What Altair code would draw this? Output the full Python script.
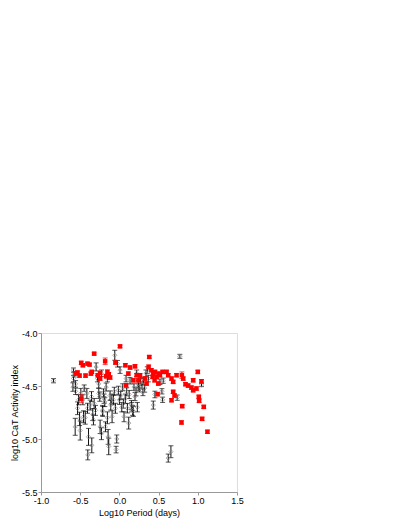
import altair as alt
import pandas as pd

# Black/gray group: log10 period, log10 CaT index, error
blk_x = [-0.84, -0.585, -0.576, -0.585, -0.593, -0.559, -0.564, -0.50, -0.534, -0.521,
         -0.466, -0.449, -0.436, -0.407, -0.394, -0.403, -0.352, -0.331, -0.322, -0.297,
         -0.280, -0.263, -0.263, -0.246, -0.229, -0.216, -0.203, -0.186, -0.169, -0.153,
         -0.144, -0.136, -0.119, -0.110, -0.093, -0.076, -0.059, -0.042, -0.034, -0.025,
         -0.013, 0.000, 0.017, 0.030, 0.042, 0.059, 0.076, 0.093, 0.102, 0.119,
         0.136, 0.153, 0.169, 0.186, 0.199, 0.212, 0.229, 0.242, 0.254, 0.271,
         0.288, 0.305, 0.322, 0.339, 0.356, 0.369, 0.432, 0.453, 0.517, 0.542,
         0.551, 0.559, 0.623, 0.657, 0.737, 0.771, 1.047, -0.492, -0.508, -0.373,
         -0.356, -0.229, -0.153, -0.305, -0.178, -0.051, 0.008, 0.085, 0.220, -0.559,
         -0.458, -0.212, -0.097, 0.051, 0.157, 0.178, 0.242, -0.250, -0.415, -0.340,
         -0.195, -0.065, 0.125, 0.300]
blk_y = [-4.45, -4.35, -4.39, -4.43, -4.51, -4.55, -4.885, -4.92, -4.71, -4.63,
         -4.63, -4.52, -4.80, -4.71, -4.98, -5.15, -5.06, -4.82, -4.665, -4.32,
         -4.43, -4.48, -4.57, -4.885, -4.95, -4.73, -4.565, -4.65, -4.51, -4.80,
         -4.98, -5.07, -4.59, -4.68, -4.79, -4.63, -4.21, -5.10, -5.00, -4.29,
         -4.54, -4.63, -4.59, -4.70, -4.51, -4.79, -4.62, -4.555, -4.71, -4.85,
         -4.45, -4.68, -4.73, -4.51, -4.60, -4.555, -4.70, -4.48, -4.525, -4.45,
         -4.49, -4.46, -4.52, -4.38, -4.35, -4.43, -4.68, -4.58, -4.46, -4.55,
         -4.63, -4.45, -5.18, -5.12, -4.61, -4.22, -4.49, -4.57, -4.81, -4.68,
         -4.60, -4.38, -4.43, -4.73, -4.885, -4.71, -4.35, -4.43, -4.38, -4.48,
         -4.79, -4.74, -4.62, -4.665, -4.70, -4.74, -4.51, -4.60, -4.57, -4.77,
         -4.62, -4.55, -4.58, -4.56]
blk_e = [0.02, 0.02, 0.025, 0.03, 0.04, 0.03, 0.08, 0.09, 0.06, 0.047,
         0.047, 0.03, 0.06, 0.047, 0.08, 0.047, 0.07, 0.047, 0.047, 0.038,
         0.031, 0.038, 0.047, 0.063, 0.056, 0.047, 0.038, 0.044, 0.038, 0.056,
         0.07, 0.078, 0.044, 0.047, 0.056, 0.047, 0.047, 0.031, 0.038, 0.031,
         0.038, 0.044, 0.038, 0.044, 0.031, 0.047, 0.044, 0.038, 0.044, 0.056,
         0.031, 0.044, 0.047, 0.031, 0.038, 0.038, 0.044, 0.031, 0.031, 0.031,
         0.031, 0.031, 0.038, 0.031, 0.031, 0.031, 0.038, 0.031, 0.025, 0.025,
         0.025, 0.025, 0.038, 0.056, 0.025, 0.019, 0.016, 0.047, 0.063, 0.047,
         0.047, 0.031, 0.031, 0.047, 0.047, 0.047, 0.031, 0.031, 0.031, 0.031,
         0.056, 0.047, 0.044, 0.044, 0.044, 0.047, 0.031, 0.044, 0.047, 0.056,
         0.044, 0.038, 0.038, 0.031]

# Red group
red_x = [0.008, -0.322, 0.381, -0.487, -0.466, -0.407, -0.381, -0.182, -0.051, -0.534,
         -0.559, -0.508, -0.352, -0.275, -0.246, -0.169, -0.153, -0.136, -0.119, 0.076,
         0.114, 0.136, 0.199, 0.220, 0.085, 0.178, 0.263, 0.373, 0.407, 0.432,
         0.453, 0.475, 0.500, 0.517, 0.551, 0.602, 0.623, 0.665, 0.686, 0.729,
         0.797, 0.814, 0.843, 0.877, 0.919, 0.941, 0.983, 1.000, 1.047, 0.941,
         1.013, 1.017, 0.686, 0.703, 0.665, 0.487, 0.801, 1.076, 1.055, 0.792,
         1.123, -0.487, 0.496, 0.347, 0.326, 0.242, 0.424, 0.449, -0.246, -0.364,
         -0.432]
red_y = [-4.126, -4.195, -4.226, -4.282, -4.304, -4.289, -4.298, -4.267, -4.279, -4.373,
         -4.383, -4.402, -4.367, -4.398, -4.377, -4.408, -4.367, -4.389, -4.420, -4.304,
         -4.383, -4.326, -4.314, -4.398, -4.493, -4.446, -4.398, -4.320, -4.351, -4.383,
         -4.367, -4.414, -4.383, -4.398, -4.367, -4.367, -4.398, -4.430, -4.461, -4.398,
         -4.398, -4.430, -4.483, -4.496, -4.515, -4.540, -4.524, -4.367, -4.455, -4.446,
         -4.602, -4.640, -4.555, -4.590, -4.634, -4.577, -4.690, -4.697, -4.810, -4.844,
         -4.932, -4.620, -4.477, -4.477, -4.430, -4.446, -4.414, -4.446, -4.430, -4.383,
         -4.402]
red_e = [0.013, 0.013, 0.013, 0.016, 0.016, 0.013, 0.013, 0.031, 0.016, 0.016,
         0.013, 0.016, 0.016, 0.016, 0.016, 0.016, 0.019, 0.016, 0.016, 0.016,
         0.016, 0.016, 0.016, 0.016, 0.016, 0.016, 0.016, 0.019, 0.016, 0.016,
         0.016, 0.016, 0.016, 0.016, 0.016, 0.016, 0.016, 0.016, 0.016, 0.016,
         0.031, 0.016, 0.016, 0.016, 0.016, 0.016, 0.016, 0.016, 0.016, 0.016,
         0.016, 0.016, 0.016, 0.016, 0.016, 0.016, 0.016, 0.016, 0.016, 0.016,
         0.016, 0.038, 0.016, 0.016, 0.016, 0.016, 0.016, 0.016, 0.016, 0.016,
         0.016]

x_ticks = [-1.0, -0.5, 0.0, 0.5, 1.0, 1.5]
y_ticks = [-5.5, -5.0, -4.5, -4.0]

blk = pd.DataFrame({"x": blk_x, "y": blk_y, "e": blk_e})
blk["lo"] = blk["y"] - blk["e"]
blk["hi"] = blk["y"] + blk["e"]
red = pd.DataFrame({"x": red_x, "y": red_y, "e": red_e})
red["lo"] = red["y"] - red["e"]
red["hi"] = red["y"] + red["e"]

FONT = "Liberation Sans"
LABEL = "replace(format(datum.value, '.1f'), '\u2212', '-')"

xscale = alt.Scale(domain=[-1.0, 1.5], nice=False, zero=False)
yscale = alt.Scale(domain=[-5.5, -4.0], nice=False, zero=False)

xaxis = alt.Axis(values=x_ticks, labelExpr=LABEL, title="Log10 Period  (days)", grid=False,
                 labelOverlap=False, labelFlush=False, labelBound=False, titlePadding=3)
yaxis = alt.Axis(values=y_ticks, labelExpr=LABEL, title="log10 CaT  Activity index", grid=False,
                 labelOverlap=False, labelFlush=False, labelBound=False, titlePadding=2)

X = alt.X("x:Q", scale=xscale, axis=xaxis)

def layers(df, color, pt):
    base = alt.Chart(df)
    rule = base.mark_rule(color=color, strokeWidth=1).encode(
        x=X, y=alt.Y("lo:Q", scale=yscale, axis=yaxis), y2="hi:Q")
    cap_lo = base.mark_tick(color=color, orient="horizontal", size=5, thickness=1).encode(
        x=X, y=alt.Y("lo:Q", scale=yscale, axis=yaxis))
    cap_hi = base.mark_tick(color=color, orient="horizontal", size=5, thickness=1).encode(
        x=X, y=alt.Y("hi:Q", scale=yscale, axis=yaxis))
    return [rule, cap_lo, cap_hi, pt]

blk_pts = alt.Chart(blk).mark_point(shape="diamond", filled=False, color="#8a8a8a",
                                    size=18, strokeWidth=1).encode(
    x=X, y=alt.Y("y:Q", scale=yscale, axis=yaxis))
red_pts = alt.Chart(red).mark_point(shape="square", filled=True, color="#ff0000",
                                    size=20, opacity=1).encode(
    x=X, y=alt.Y("y:Q", scale=yscale, axis=yaxis))

chart = alt.layer(*layers(blk, "#111111", blk_pts), *layers(red, "#ff0000", red_pts)).properties(
    width=196, height=159,
    autosize=alt.AutoSizeParams(type="none"),
    padding={"left": 33, "top": 325, "right": 20, "bottom": 30},
).configure_view(stroke="#999999", strokeWidth=1).configure(background="white").configure_axis(
    labelFont=FONT, labelFontSize=9, titleFont=FONT, titleFontSize=9,
    titleFontWeight="normal", labelColor="black", titleColor="black",
    domainColor="#999999", tickColor="#999999", tickSize=3, labelPadding=1,
    labelOverlap=False, labelFlush=False, labelBound=False)

chart.save("out.html", embed_options={"renderer": "svg", "actions": False})
